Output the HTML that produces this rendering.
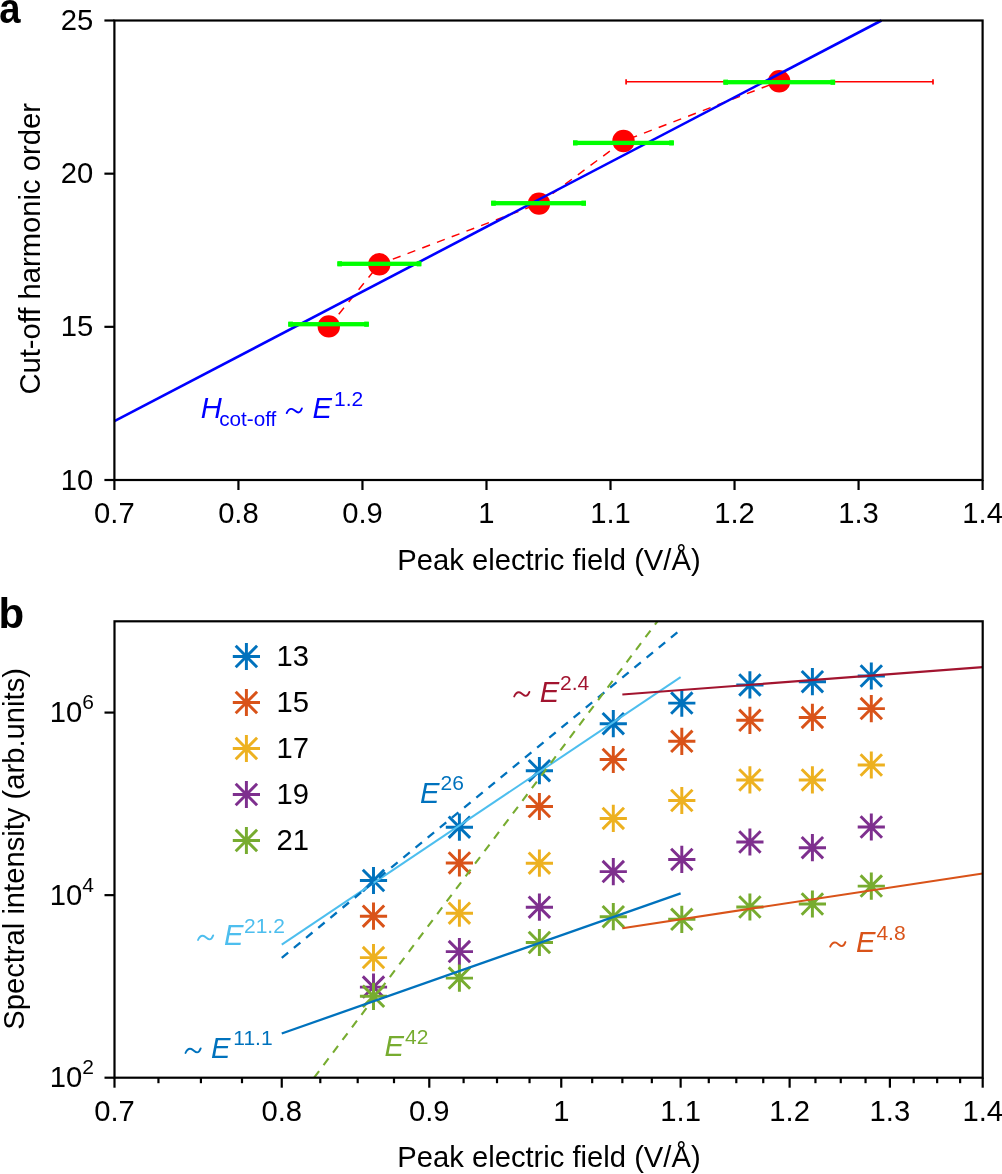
<!DOCTYPE html><html><head><meta charset="utf-8"><style>html,body{margin:0;padding:0;background:#fff;overflow:hidden}svg{display:block;will-change:transform}</style></head><body><svg width="1002" height="1174" viewBox="0 0 1002 1174" font-family='"Liberation Sans", sans-serif'>
<rect width="1002" height="1174" fill="#fff"/>
<polyline points="328.8,326.4 379.3,264.3 539.0,203.6 623.5,141.0 779.2,81.3" fill="none" stroke="#ff0000" stroke-width="1.45" stroke-dasharray="8.3 7.45"/>
<g stroke="#ff0000" fill="none">
<line x1="626.1" y1="81.85" x2="933" y2="81.85" stroke-width="1.5"/>
<line x1="626.1" y1="79.2" x2="626.1" y2="84.5" stroke-width="1.7"/>
<line x1="933" y1="79.2" x2="933" y2="84.5" stroke-width="1.7"/>
</g>
<circle cx="328.8" cy="326.4" r="11.2" fill="#ff0000"/>
<circle cx="379.3" cy="264.3" r="11.2" fill="#ff0000"/>
<circle cx="539.0" cy="203.6" r="11.2" fill="#ff0000"/>
<circle cx="623.5" cy="141.0" r="11.2" fill="#ff0000"/>
<circle cx="779.2" cy="81.3" r="11.2" fill="#ff0000"/>
<line x1="114.4" y1="421.2" x2="881.5" y2="20.5" stroke="#0000ff" stroke-width="2.6"/>
<rect x="288.3" y="322.05" width="80.50" height="4.3" fill="#00ff00"/>
<rect x="288.3" y="321.60" width="4.6" height="5.2" fill="#00ff00"/>
<rect x="364.20" y="321.60" width="4.6" height="5.2" fill="#00ff00"/>
<rect x="337.4" y="261.65" width="83.90" height="4.3" fill="#00ff00"/>
<rect x="337.4" y="261.20" width="4.6" height="5.2" fill="#00ff00"/>
<rect x="416.70" y="261.20" width="4.6" height="5.2" fill="#00ff00"/>
<rect x="491.2" y="201.05" width="94.80" height="4.3" fill="#00ff00"/>
<rect x="491.2" y="200.60" width="4.6" height="5.2" fill="#00ff00"/>
<rect x="581.40" y="200.60" width="4.6" height="5.2" fill="#00ff00"/>
<rect x="573.0" y="140.75" width="100.80" height="4.3" fill="#00ff00"/>
<rect x="573.0" y="140.30" width="4.6" height="5.2" fill="#00ff00"/>
<rect x="669.20" y="140.30" width="4.6" height="5.2" fill="#00ff00"/>
<rect x="723.4" y="80.05" width="111.70" height="4.3" fill="#00ff00"/>
<rect x="723.4" y="79.60" width="4.6" height="5.2" fill="#00ff00"/>
<rect x="830.50" y="79.60" width="4.6" height="5.2" fill="#00ff00"/>
<rect x="114.4" y="20.5" width="868.2" height="459.5" fill="none" stroke="#000" stroke-width="2.2"/>
<line x1="114.40" y1="480.0" x2="114.40" y2="490.0" stroke="#000" stroke-width="2.2"/>
<line x1="238.43" y1="480.0" x2="238.43" y2="490.0" stroke="#000" stroke-width="2.2"/>
<line x1="362.46" y1="480.0" x2="362.46" y2="490.0" stroke="#000" stroke-width="2.2"/>
<line x1="486.49" y1="480.0" x2="486.49" y2="490.0" stroke="#000" stroke-width="2.2"/>
<line x1="610.51" y1="480.0" x2="610.51" y2="490.0" stroke="#000" stroke-width="2.2"/>
<line x1="734.54" y1="480.0" x2="734.54" y2="490.0" stroke="#000" stroke-width="2.2"/>
<line x1="858.57" y1="480.0" x2="858.57" y2="490.0" stroke="#000" stroke-width="2.2"/>
<line x1="982.60" y1="480.0" x2="982.60" y2="490.0" stroke="#000" stroke-width="2.2"/>
<line x1="104.4" y1="480.00" x2="114.4" y2="480.00" stroke="#000" stroke-width="2.2"/>
<line x1="104.4" y1="326.83" x2="114.4" y2="326.83" stroke="#000" stroke-width="2.2"/>
<line x1="104.4" y1="173.67" x2="114.4" y2="173.67" stroke="#000" stroke-width="2.2"/>
<line x1="104.4" y1="20.50" x2="114.4" y2="20.50" stroke="#000" stroke-width="2.2"/>
<text x="114.40" y="523" font-size="29.2" text-anchor="middle">0.7</text>
<text x="238.43" y="523" font-size="29.2" text-anchor="middle">0.8</text>
<text x="362.46" y="523" font-size="29.2" text-anchor="middle">0.9</text>
<text x="486.49" y="523" font-size="29.2" text-anchor="middle">1</text>
<text x="610.51" y="523" font-size="29.2" text-anchor="middle">1.1</text>
<text x="734.54" y="523" font-size="29.2" text-anchor="middle">1.2</text>
<text x="858.57" y="523" font-size="29.2" text-anchor="middle">1.3</text>
<text x="982.60" y="523" font-size="29.2" text-anchor="middle">1.4</text>
<text x="93.3" y="489.60" font-size="29.2" text-anchor="end">10</text>
<text x="93.3" y="336.43" font-size="29.2" text-anchor="end">15</text>
<text x="93.3" y="183.27" font-size="29.2" text-anchor="end">20</text>
<text x="93.3" y="30.10" font-size="29.2" text-anchor="end">25</text>
<text x="397.3" y="570.2" font-size="29.2">Peak electric field (V/Å)</text>
<text transform="translate(39.6,394.6) rotate(-90)" font-size="29.2">Cut-off harmonic order</text>
<text transform="translate(-0.8,22.8) scale(0.91,1)" font-size="42" font-weight="bold">a</text>
<text x="200.7" y="418.1" font-size="29.2" font-style="italic" fill="#0000ff">H</text>
<text x="219.2" y="425.8" font-size="20.7" fill="#0000ff">cot-off</text>
<path d="M286.70 413.10C288.20 409.60 290.20 408.30 292.50 409.10C294.70 409.90 296.20 412.50 298.30 412.50C300.00 412.50 301.00 410.80 301.90 408.50" fill="none" stroke="#0000ff" stroke-width="1.9" stroke-linecap="round"/><text x="312.60" y="418.1" font-size="29.2" font-style="italic" fill="#0000ff">E</text><text x="334.00" y="406" font-size="21" fill="#0000ff">1.2</text>
<path d="M359.90 880.50H387.10M373.50 866.90V894.10M362.80 869.80L384.20 891.20M362.80 891.20L384.20 869.80" stroke="#0072BD" stroke-width="2.95" fill="none"/>
<path d="M445.80 827.20H473.00M459.40 813.60V840.80M448.70 816.50L470.10 837.90M448.70 837.90L470.10 816.50" stroke="#0072BD" stroke-width="2.95" fill="none"/>
<path d="M525.80 770.70H553.00M539.40 757.10V784.30M528.70 760.00L550.10 781.40M528.70 781.40L550.10 760.00" stroke="#0072BD" stroke-width="2.95" fill="none"/>
<path d="M599.70 723.70H626.90M613.30 710.10V737.30M602.60 713.00L624.00 734.40M602.60 734.40L624.00 713.00" stroke="#0072BD" stroke-width="2.95" fill="none"/>
<path d="M668.20 703.10H695.40M681.80 689.50V716.70M671.10 692.40L692.50 713.80M671.10 713.80L692.50 692.40" stroke="#0072BD" stroke-width="2.95" fill="none"/>
<path d="M736.30 684.90H763.50M749.90 671.30V698.50M739.20 674.20L760.60 695.60M739.20 695.60L760.60 674.20" stroke="#0072BD" stroke-width="2.95" fill="none"/>
<path d="M798.80 681.70H826.00M812.40 668.10V695.30M801.70 671.00L823.10 692.40M801.70 692.40L823.10 671.00" stroke="#0072BD" stroke-width="2.95" fill="none"/>
<path d="M857.70 676.00H884.90M871.30 662.40V689.60M860.60 665.30L882.00 686.70M860.60 686.70L882.00 665.30" stroke="#0072BD" stroke-width="2.95" fill="none"/>
<path d="M359.90 916.20H387.10M373.50 902.60V929.80M362.80 905.50L384.20 926.90M362.80 926.90L384.20 905.50" stroke="#D95319" stroke-width="2.95" fill="none"/>
<path d="M445.80 862.90H473.00M459.40 849.30V876.50M448.70 852.20L470.10 873.60M448.70 873.60L470.10 852.20" stroke="#D95319" stroke-width="2.95" fill="none"/>
<path d="M525.80 806.50H553.00M539.40 792.90V820.10M528.70 795.80L550.10 817.20M528.70 817.20L550.10 795.80" stroke="#D95319" stroke-width="2.95" fill="none"/>
<path d="M599.70 759.50H626.90M613.30 745.90V773.10M602.60 748.80L624.00 770.20M602.60 770.20L624.00 748.80" stroke="#D95319" stroke-width="2.95" fill="none"/>
<path d="M668.20 741.30H695.40M681.80 727.70V754.90M671.10 730.60L692.50 752.00M671.10 752.00L692.50 730.60" stroke="#D95319" stroke-width="2.95" fill="none"/>
<path d="M736.30 720.30H763.50M749.90 706.70V733.90M739.20 709.60L760.60 731.00M739.20 731.00L760.60 709.60" stroke="#D95319" stroke-width="2.95" fill="none"/>
<path d="M798.80 717.40H826.00M812.40 703.80V731.00M801.70 706.70L823.10 728.10M801.70 728.10L823.10 706.70" stroke="#D95319" stroke-width="2.95" fill="none"/>
<path d="M857.70 708.60H884.90M871.30 695.00V722.20M860.60 697.90L882.00 719.30M860.60 719.30L882.00 697.90" stroke="#D95319" stroke-width="2.95" fill="none"/>
<path d="M359.90 957.60H387.10M373.50 944.00V971.20M362.80 946.90L384.20 968.30M362.80 968.30L384.20 946.90" stroke="#EDB120" stroke-width="2.95" fill="none"/>
<path d="M445.80 913.20H473.00M459.40 899.60V926.80M448.70 902.50L470.10 923.90M448.70 923.90L470.10 902.50" stroke="#EDB120" stroke-width="2.95" fill="none"/>
<path d="M525.80 863.20H553.00M539.40 849.60V876.80M528.70 852.50L550.10 873.90M528.70 873.90L550.10 852.50" stroke="#EDB120" stroke-width="2.95" fill="none"/>
<path d="M599.70 818.40H626.90M613.30 804.80V832.00M602.60 807.70L624.00 829.10M602.60 829.10L624.00 807.70" stroke="#EDB120" stroke-width="2.95" fill="none"/>
<path d="M668.20 800.50H695.40M681.80 786.90V814.10M671.10 789.80L692.50 811.20M671.10 811.20L692.50 789.80" stroke="#EDB120" stroke-width="2.95" fill="none"/>
<path d="M736.30 779.90H763.50M749.90 766.30V793.50M739.20 769.20L760.60 790.60M739.20 790.60L760.60 769.20" stroke="#EDB120" stroke-width="2.95" fill="none"/>
<path d="M798.80 779.90H826.00M812.40 766.30V793.50M801.70 769.20L823.10 790.60M801.70 790.60L823.10 769.20" stroke="#EDB120" stroke-width="2.95" fill="none"/>
<path d="M857.70 765.00H884.90M871.30 751.40V778.60M860.60 754.30L882.00 775.70M860.60 775.70L882.00 754.30" stroke="#EDB120" stroke-width="2.95" fill="none"/>
<path d="M359.90 987.10H387.10M373.50 973.50V1000.70M362.80 976.40L384.20 997.80M362.80 997.80L384.20 976.40" stroke="#7E2F8E" stroke-width="2.95" fill="none"/>
<path d="M445.80 951.60H473.00M459.40 938.00V965.20M448.70 940.90L470.10 962.30M448.70 962.30L470.10 940.90" stroke="#7E2F8E" stroke-width="2.95" fill="none"/>
<path d="M525.80 907.20H553.00M539.40 893.60V920.80M528.70 896.50L550.10 917.90M528.70 917.90L550.10 896.50" stroke="#7E2F8E" stroke-width="2.95" fill="none"/>
<path d="M599.70 871.60H626.90M613.30 858.00V885.20M602.60 860.90L624.00 882.30M602.60 882.30L624.00 860.90" stroke="#7E2F8E" stroke-width="2.95" fill="none"/>
<path d="M668.20 859.40H695.40M681.80 845.80V873.00M671.10 848.70L692.50 870.10M671.10 870.10L692.50 848.70" stroke="#7E2F8E" stroke-width="2.95" fill="none"/>
<path d="M736.30 842.00H763.50M749.90 828.40V855.60M739.20 831.30L760.60 852.70M739.20 852.70L760.60 831.30" stroke="#7E2F8E" stroke-width="2.95" fill="none"/>
<path d="M798.80 847.70H826.00M812.40 834.10V861.30M801.70 837.00L823.10 858.40M801.70 858.40L823.10 837.00" stroke="#7E2F8E" stroke-width="2.95" fill="none"/>
<path d="M857.70 827.00H884.90M871.30 813.40V840.60M860.60 816.30L882.00 837.70M860.60 837.70L882.00 816.30" stroke="#7E2F8E" stroke-width="2.95" fill="none"/>
<path d="M359.90 996.30H387.10M373.50 982.70V1009.90M362.80 985.60L384.20 1007.00M362.80 1007.00L384.20 985.60" stroke="#77AC30" stroke-width="2.95" fill="none"/>
<path d="M445.80 978.10H473.00M459.40 964.50V991.70M448.70 967.40L470.10 988.80M448.70 988.80L470.10 967.40" stroke="#77AC30" stroke-width="2.95" fill="none"/>
<path d="M525.80 942.50H553.00M539.40 928.90V956.10M528.70 931.80L550.10 953.20M528.70 953.20L550.10 931.80" stroke="#77AC30" stroke-width="2.95" fill="none"/>
<path d="M599.70 916.70H626.90M613.30 903.10V930.30M602.60 906.00L624.00 927.40M602.60 927.40L624.00 906.00" stroke="#77AC30" stroke-width="2.95" fill="none"/>
<path d="M668.20 919.30H695.40M681.80 905.70V932.90M671.10 908.60L692.50 930.00M671.10 930.00L692.50 908.60" stroke="#77AC30" stroke-width="2.95" fill="none"/>
<path d="M736.30 907.00H763.50M749.90 893.40V920.60M739.20 896.30L760.60 917.70M739.20 917.70L760.60 896.30" stroke="#77AC30" stroke-width="2.95" fill="none"/>
<path d="M798.80 904.00H826.00M812.40 890.40V917.60M801.70 893.30L823.10 914.70M801.70 914.70L823.10 893.30" stroke="#77AC30" stroke-width="2.95" fill="none"/>
<path d="M857.70 886.10H884.90M871.30 872.50V899.70M860.60 875.40L882.00 896.80M860.60 896.80L882.00 875.40" stroke="#77AC30" stroke-width="2.95" fill="none"/>
<path d="M232.80 656.50H260.00M246.40 642.90V670.10M235.70 645.80L257.10 667.20M235.70 667.20L257.10 645.80" stroke="#0072BD" stroke-width="2.95" fill="none"/>
<text x="276.5" y="666.10" font-size="29.2">13</text>
<path d="M232.80 702.50H260.00M246.40 688.90V716.10M235.70 691.80L257.10 713.20M235.70 713.20L257.10 691.80" stroke="#D95319" stroke-width="2.95" fill="none"/>
<text x="276.5" y="712.10" font-size="29.2">15</text>
<path d="M232.80 748.50H260.00M246.40 734.90V762.10M235.70 737.80L257.10 759.20M235.70 759.20L257.10 737.80" stroke="#EDB120" stroke-width="2.95" fill="none"/>
<text x="276.5" y="758.10" font-size="29.2">17</text>
<path d="M232.80 794.50H260.00M246.40 780.90V808.10M235.70 783.80L257.10 805.20M235.70 805.20L257.10 783.80" stroke="#7E2F8E" stroke-width="2.95" fill="none"/>
<text x="276.5" y="804.10" font-size="29.2">19</text>
<path d="M232.80 840.50H260.00M246.40 826.90V854.10M235.70 829.80L257.10 851.20M235.70 851.20L257.10 829.80" stroke="#77AC30" stroke-width="2.95" fill="none"/>
<text x="276.5" y="850.10" font-size="29.2">21</text>
<line x1="281.75" y1="944.7" x2="680.63" y2="677.07" stroke="#4DBEEE" stroke-width="2"/>
<line x1="281.75" y1="957.8" x2="680.63" y2="629.57" stroke="#0072BD" stroke-width="2.3" stroke-dasharray="8.3 7.45"/>
<line x1="314.1" y1="1077.7" x2="657.44" y2="621.3" stroke="#77AC30" stroke-width="2.1" stroke-dasharray="8.3 7.45"/>
<line x1="281.75" y1="1033.5" x2="680.63" y2="893.37" stroke="#0072BD" stroke-width="2.3"/>
<line x1="622.36" y1="694.5" x2="982.7" y2="667.13" stroke="#A2142F" stroke-width="2.1"/>
<line x1="622.36" y1="928.2" x2="982.7" y2="873.46" stroke="#D95319" stroke-width="2.1"/>
<rect x="114.5" y="621.3" width="868.2" height="456.4000000000001" fill="none" stroke="#000" stroke-width="2.2"/>
<line x1="114.50" y1="1077.7" x2="114.50" y2="1087.7" stroke="#000" stroke-width="2.2"/>
<line x1="158.45" y1="1077.7" x2="158.45" y2="1083.2" stroke="#000" stroke-width="2.2"/>
<line x1="200.92" y1="1077.7" x2="200.92" y2="1083.2" stroke="#000" stroke-width="2.2"/>
<line x1="241.99" y1="1077.7" x2="241.99" y2="1083.2" stroke="#000" stroke-width="2.2"/>
<line x1="281.75" y1="1077.7" x2="281.75" y2="1087.7" stroke="#000" stroke-width="2.2"/>
<line x1="320.30" y1="1077.7" x2="320.30" y2="1083.2" stroke="#000" stroke-width="2.2"/>
<line x1="357.69" y1="1077.7" x2="357.69" y2="1083.2" stroke="#000" stroke-width="2.2"/>
<line x1="394.00" y1="1077.7" x2="394.00" y2="1083.2" stroke="#000" stroke-width="2.2"/>
<line x1="429.28" y1="1077.7" x2="429.28" y2="1087.7" stroke="#000" stroke-width="2.2"/>
<line x1="463.60" y1="1077.7" x2="463.60" y2="1083.2" stroke="#000" stroke-width="2.2"/>
<line x1="497.01" y1="1077.7" x2="497.01" y2="1083.2" stroke="#000" stroke-width="2.2"/>
<line x1="529.54" y1="1077.7" x2="529.54" y2="1083.2" stroke="#000" stroke-width="2.2"/>
<line x1="561.25" y1="1077.7" x2="561.25" y2="1087.7" stroke="#000" stroke-width="2.2"/>
<line x1="592.18" y1="1077.7" x2="592.18" y2="1083.2" stroke="#000" stroke-width="2.2"/>
<line x1="622.36" y1="1077.7" x2="622.36" y2="1083.2" stroke="#000" stroke-width="2.2"/>
<line x1="651.84" y1="1077.7" x2="651.84" y2="1083.2" stroke="#000" stroke-width="2.2"/>
<line x1="680.63" y1="1077.7" x2="680.63" y2="1087.7" stroke="#000" stroke-width="2.2"/>
<line x1="708.78" y1="1077.7" x2="708.78" y2="1083.2" stroke="#000" stroke-width="2.2"/>
<line x1="736.31" y1="1077.7" x2="736.31" y2="1083.2" stroke="#000" stroke-width="2.2"/>
<line x1="763.25" y1="1077.7" x2="763.25" y2="1083.2" stroke="#000" stroke-width="2.2"/>
<line x1="789.62" y1="1077.7" x2="789.62" y2="1087.7" stroke="#000" stroke-width="2.2"/>
<line x1="815.45" y1="1077.7" x2="815.45" y2="1083.2" stroke="#000" stroke-width="2.2"/>
<line x1="840.75" y1="1077.7" x2="840.75" y2="1083.2" stroke="#000" stroke-width="2.2"/>
<line x1="865.55" y1="1077.7" x2="865.55" y2="1083.2" stroke="#000" stroke-width="2.2"/>
<line x1="889.88" y1="1077.7" x2="889.88" y2="1087.7" stroke="#000" stroke-width="2.2"/>
<line x1="913.73" y1="1077.7" x2="913.73" y2="1083.2" stroke="#000" stroke-width="2.2"/>
<line x1="937.15" y1="1077.7" x2="937.15" y2="1083.2" stroke="#000" stroke-width="2.2"/>
<line x1="960.13" y1="1077.7" x2="960.13" y2="1083.2" stroke="#000" stroke-width="2.2"/>
<line x1="982.70" y1="1077.7" x2="982.70" y2="1087.7" stroke="#000" stroke-width="2.2"/>
<line x1="104.5" y1="1077.70" x2="114.5" y2="1077.70" stroke="#000" stroke-width="2.2"/>
<line x1="104.5" y1="895.14" x2="114.5" y2="895.14" stroke="#000" stroke-width="2.2"/>
<line x1="104.5" y1="712.58" x2="114.5" y2="712.58" stroke="#000" stroke-width="2.2"/>
<text x="114.50" y="1121" font-size="29.2" text-anchor="middle">0.7</text>
<text x="281.75" y="1121" font-size="29.2" text-anchor="middle">0.8</text>
<text x="429.28" y="1121" font-size="29.2" text-anchor="middle">0.9</text>
<text x="561.25" y="1121" font-size="29.2" text-anchor="middle">1</text>
<text x="680.63" y="1121" font-size="29.2" text-anchor="middle">1.1</text>
<text x="789.62" y="1121" font-size="29.2" text-anchor="middle">1.2</text>
<text x="889.88" y="1121" font-size="29.2" text-anchor="middle">1.3</text>
<text x="982.70" y="1121" font-size="29.2" text-anchor="middle">1.4</text>
<text x="49.7" y="1087.20" font-size="29.2">10<tspan font-size="21" dy="-12.8">2</tspan></text>
<text x="49.7" y="904.64" font-size="29.2">10<tspan font-size="21" dy="-12.8">4</tspan></text>
<text x="49.7" y="722.08" font-size="29.2">10<tspan font-size="21" dy="-12.8">6</tspan></text>
<text x="397.3" y="1167.4" font-size="29.2">Peak electric field (V/Å)</text>
<text transform="translate(23.6,1029.8) rotate(-90)" font-size="29.2">Spectral intensity (arb.units)</text>
<text x="-1.5" y="628.2" font-size="42" font-weight="bold">b</text>
<path d="M198.00 940.00C199.50 936.50 201.50 935.20 203.80 936.00C206.00 936.80 207.50 939.40 209.60 939.40C211.30 939.40 212.30 937.70 213.20 935.40" fill="none" stroke="#4DBEEE" stroke-width="1.9" stroke-linecap="round"/><text x="224.00" y="945" font-size="29.2" font-style="italic" fill="#4DBEEE">E</text><text x="244.00" y="932.8" font-size="21" fill="#4DBEEE">21.2</text>
<path d="M185.50 1053.00C187.00 1049.50 189.00 1048.20 191.30 1049.00C193.50 1049.80 195.00 1052.40 197.10 1052.40C198.80 1052.40 199.80 1050.70 200.70 1048.40" fill="none" stroke="#0072BD" stroke-width="1.9" stroke-linecap="round"/><text x="211.00" y="1058" font-size="29.2" font-style="italic" fill="#0072BD">E</text><text x="233.30" y="1045.3" font-size="21" fill="#0072BD">11.1</text>
<text x="420.00" y="803" font-size="29.2" font-style="italic" fill="#0072BD">E</text><text x="440.50" y="790" font-size="21" fill="#0072BD">26</text>
<text x="384.50" y="1056.1" font-size="29.2" font-style="italic" fill="#77AC30">E</text><text x="405.00" y="1044" font-size="21" fill="#77AC30">42</text>
<path d="M514.20 696.50C515.70 693.00 517.70 691.70 520.00 692.50C522.20 693.30 523.70 695.90 525.80 695.90C527.50 695.90 528.50 694.20 529.40 691.90" fill="none" stroke="#A2142F" stroke-width="1.9" stroke-linecap="round"/><text x="539.70" y="701.5" font-size="29.2" font-style="italic" fill="#A2142F">E</text><text x="560.00" y="689.5" font-size="21" fill="#A2142F">2.4</text>
<path d="M830.20 946.70C831.70 943.20 833.70 941.90 836.00 942.70C838.20 943.50 839.70 946.10 841.80 946.10C843.50 946.10 844.50 944.40 845.40 942.10" fill="none" stroke="#D95319" stroke-width="1.9" stroke-linecap="round"/><text x="856.10" y="951.7" font-size="29.2" font-style="italic" fill="#D95319">E</text><text x="876.40" y="939.5" font-size="21" fill="#D95319">4.8</text>
</svg></body></html>
